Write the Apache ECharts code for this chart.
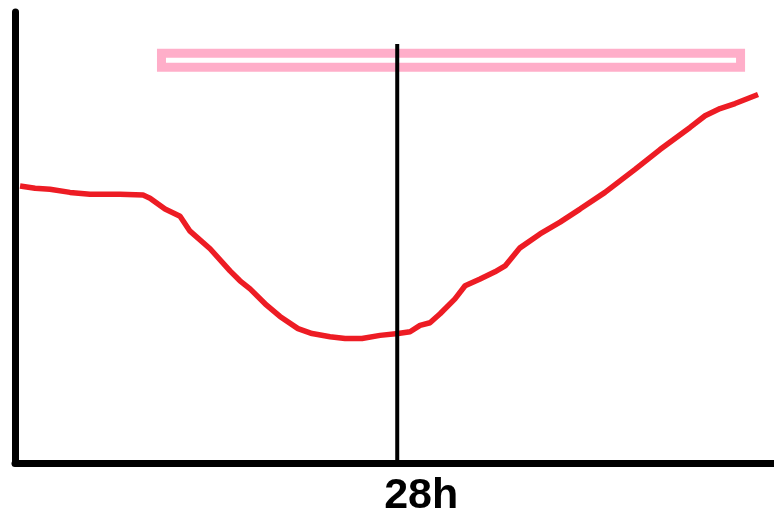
<!DOCTYPE html>
<html>
<head>
<meta charset="utf-8">
<script src="https://cdn.jsdelivr.net/npm/echarts@6/dist/echarts.min.js"></script>
<style>html,body{margin:0;padding:0;background:#fff}#c{width:774px;height:518px}</style>
</head>
<body>
<div id="c"></div>
<script>
// hours since start
var hours = [0.37,1.47,2.56,4.03,5.49,7.69,9.38,9.89,10.99,12.09,12.82,14.29,15.75,16.48,17.22,18.32,19.41,20.73,21.76,23.08,24.18,25.42,26.74,28.06,28.94,29.67,30.40,31.14,32.23,32.97,34.07,35.16,35.90,36.99,38.46,39.93,41.39,43.22,45.42,47.25,49.45,50.55,51.65,52.75,54.43];
var level = [61.4,60.9,60.7,60.0,59.6,59.6,59.4,58.7,56.3,54.7,51.4,47.5,42.6,40.4,38.6,35.3,32.5,29.8,28.7,28.0,27.6,27.6,28.3,28.7,29.1,30.5,31.1,33.1,36.4,39.3,40.8,42.4,43.7,47.7,50.8,53.4,56.3,60.0,65.1,69.5,74.4,77.0,78.6,79.7,81.7];
var markerHour = 28;
var markerLabel = '28h';
var markerTop = 92.9;
var bandX = [10.73, 53.15];
var bandY = [87.75, 90.84];

var curve = hours.map(function(h, i){ return [h, level[i]]; });

var chart = echarts.init(document.getElementById('c'));
chart.setOption({
  animation: false,
  backgroundColor: '#ffffff',
  grid: {left: 15, right: 0, top: 12, bottom: 53},
  xAxis: {
    type: 'value', min: 0, max: 55.6, interval: 28,
    axisLine: {show: true, lineStyle: {color: '#000', width: 7}},
    axisTick: {show: false},
    splitLine: {show: false},
    axisLabel: {
      showMinLabel: false, showMaxLabel: false,
      formatter: function(v){ return v === markerHour ? markerLabel : ''; },
      color: '#000', fontSize: 43, fontWeight: 'bold',
      fontFamily: 'Liberation Sans, Arial, sans-serif',
      margin: 12, padding: [0, 0, 0, 48]
    }
  },
  yAxis: {
    type: 'value', min: 0, max: 100,
    axisLine: {show: true, lineStyle: {color: '#000', width: 7}},
    axisTick: {show: false},
    splitLine: {show: false},
    axisLabel: {show: false}
  },
  series: [
    {
      type: 'line', data: curve, showSymbol: false, smooth: false,
      lineStyle: {color: '#ED1C24', width: 5.5},
      z: 2,
      markArea: {
        silent: true,
        itemStyle: {color: '#ffffff', borderColor: '#FFAEC9', borderWidth: 9},
        data: [[{coord: [bandX[0], bandY[1]]}, {coord: [bandX[1], bandY[0]]}]]
      }
    },
    {
      type: 'line', data: [[markerHour, markerTop], [markerHour, 0]],
      showSymbol: false, lineStyle: {color: '#000', width: 4}, z: 5
    }
  ]
});
</script>
</body>
</html>
